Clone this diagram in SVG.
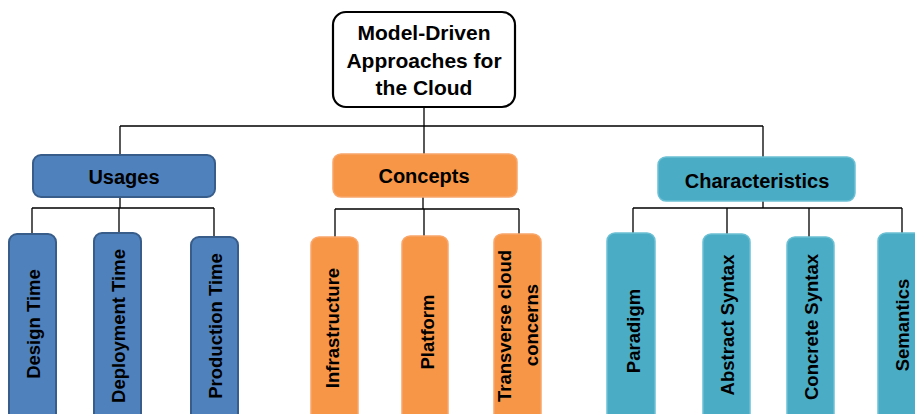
<svg xmlns="http://www.w3.org/2000/svg" width="915" height="414" viewBox="0 0 915 414">
<style>
text{font-family:"Liberation Sans",Arial,sans-serif;font-weight:bold;fill:#000;}
.hd{font-size:20px;text-anchor:middle;}
.rt{font-size:21px;text-anchor:middle;}
.vt{font-size:18.5px;text-anchor:middle;dominant-baseline:central;}
.blue{fill:#4F81BD;stroke:#385D8A;stroke-width:2;}
.orange{fill:#F79646;stroke:#F9A66B;stroke-width:1.5;}
.teal{fill:#4BACC6;stroke:#6CC0D4;stroke-width:1.5;}
.ln{fill:none;stroke:#000;stroke-width:1.3;}
</style>
<rect width="915" height="414" fill="#fff"/>
<g id="connectors">
<path class="ln" d="M424 107V154M120 126H763M120 126V155M763 126V157"/>
<path class="ln" d="M120 197V208M32 208H214M32 208V234M119 208V233M214 208V238"/>
<path class="ln" d="M423 197V209M335 209H519M335 209V237M424 209V236M519 209V234"/>
<path class="ln" d="M763 201V208M633 208H902M633 208V233M727 208V234M809 208V237M902 208V233"/>
</g>
<g id="root">
<rect x="333" y="12" width="182" height="95" rx="13" fill="#fff" stroke="#000" stroke-width="2.2"/>
<text class="rt" x="424" y="40">Model-Driven</text>
<text class="rt" x="424" y="68">Approaches for</text>
<text class="rt" x="424" y="95">the Cloud</text>
</g>
<g id="usages">
<rect class="blue" x="33" y="155" width="182" height="42" rx="8"/>
<text class="hd" x="124" y="184">Usages</text>
</g>
<g id="concepts">
<rect class="orange" x="333" y="154" width="184" height="43" rx="8"/>
<text class="hd" x="424" y="183">Concepts</text>
</g>
<g id="characteristics">
<rect class="teal" x="658" y="157" width="197" height="44" rx="8"/>
<text class="hd" x="757" y="188">Characteristics</text>
</g>
<g id="design-time">
<rect class="blue" x="9" y="234" width="47" height="200" rx="8"/>
<text class="vt" transform="translate(33 324) rotate(-90)">Design Time</text>
</g>
<g id="deployment-time">
<rect class="blue" x="94" y="233" width="47" height="200" rx="8"/>
<text class="vt" transform="translate(118 326) rotate(-90)">Deployment Time</text>
</g>
<g id="production-time">
<rect class="blue" x="191" y="237" width="47" height="200" rx="8"/>
<text class="vt" transform="translate(215 326) rotate(-90)">Production Time</text>
</g>
<g id="infrastructure">
<rect class="orange" x="311" y="237" width="47" height="200" rx="8"/>
<text class="vt" transform="translate(332 328) rotate(-90)">Infrastructure</text>
</g>
<g id="platform">
<rect class="orange" x="402" y="236" width="46" height="200" rx="8"/>
<text class="vt" transform="translate(427 332) rotate(-90)">Platform</text>
</g>
<g id="transverse">
<rect class="orange" x="494" y="234" width="47" height="200" rx="8"/>
<text class="vt" transform="translate(504 326) rotate(-90)">Transverse cloud</text>
<text class="vt" transform="translate(531 325) rotate(-90)">concerns</text>
</g>
<g id="paradigm">
<rect class="teal" x="607" y="233" width="48" height="200" rx="8"/>
<text class="vt" transform="translate(633 331) rotate(-90)">Paradigm</text>
</g>
<g id="abstract-syntax">
<rect class="teal" x="703" y="234" width="47" height="200" rx="8"/>
<text class="vt" transform="translate(727 325) rotate(-90)">Abstract Syntax</text>
</g>
<g id="concrete-syntax">
<rect class="teal" x="787" y="237" width="47" height="200" rx="8"/>
<text class="vt" transform="translate(811 327) rotate(-90)">Concrete Syntax</text>
</g>
<g id="semantics">
<rect class="teal" x="878" y="233" width="50" height="200" rx="8"/>
<text class="vt" transform="translate(902 325) rotate(-90)">Semantics</text>
</g>
</svg>
